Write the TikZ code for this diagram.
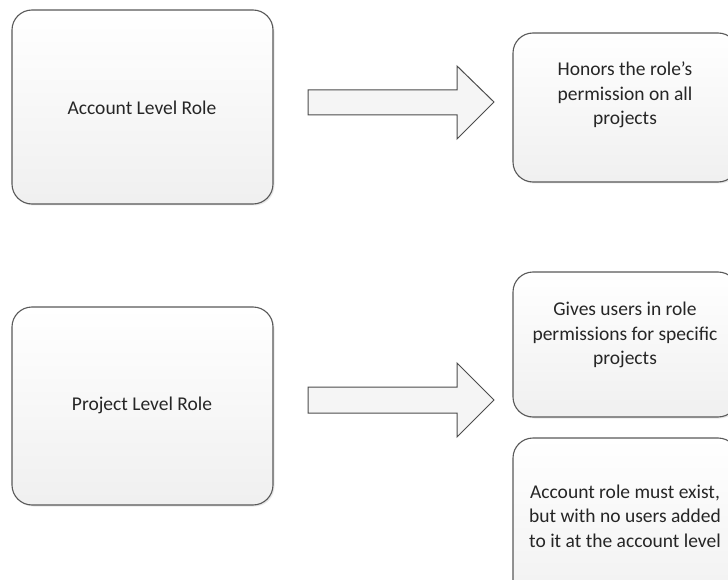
\documentclass[tikz,border=0pt]{standalone}
\usepackage{fontspec}
\setmainfont{Carlito}
\usetikzlibrary{shadows}
\begin{document}
\begin{tikzpicture}[x=1pt,y=-1pt,
  rbox/.style={draw=black!65, line width=1.1pt, rounded corners=20pt,
    top color=white, bottom color=black!6,
    drop shadow={shadow xshift=1.5pt, shadow yshift=-1.5pt, opacity=0.18}},
  barrow/.style={draw=black!70, line width=1pt, fill=black!4, line join=miter},
  txt/.style={font=\fontsize{19.5}{24.5}\selectfont, text=black!85, align=center}]
\useasboundingbox (0,0) rectangle (728,580);
\clip (0,0) rectangle (728,580);
% left boxes
\draw[rbox] (12,10) rectangle (273,204);
\node[txt] (acc) at (142,108) {Account Level Role};
\draw[rbox] (12,307) rectangle (273,505);
\node[txt] (proj) at (142,405) {Project Level Role};
% right boxes
\draw[rbox] (513,33) rectangle (738,182);
\node[txt] (hon) at (625,95) {Honors the role’s\\permission on all\\projects};
\draw[rbox] (513,272) rectangle (738,417);
\node[txt] (giv) at (625,335) {Gives users in role\\permissions for specific\\projects};
\draw[rbox] (513,438) rectangle (738,620);
\node[txt] (accr) at (625,516) {Account role must exist,\\but with no users added\\to it at the account level};
% block arrows
\draw[barrow] (308,90) -- (457,90) -- (457,66) -- (494,102) -- (457,139) -- (457,115) -- (308,115) -- cycle;
\draw[barrow] (308,387) -- (457,387) -- (457,363) -- (494,400) -- (457,437) -- (457,413) -- (308,413) -- cycle;
\end{tikzpicture}
\end{document}
